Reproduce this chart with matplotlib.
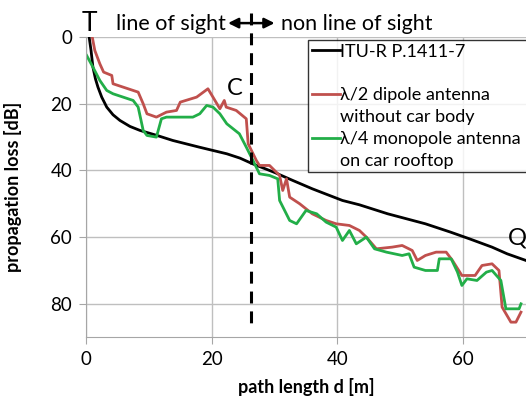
import matplotlib.pyplot as plt
from matplotlib.lines import Line2D

plt.rcParams['font.family'] = ['Lato', 'DejaVu Sans']

# ITU-R P.1411-7 model curve
itu_d = [0.5, 0.8, 1.1, 1.5, 1.9, 2.5, 3.3, 4.3, 5.4, 7.0, 8.6, 11.3, 13.8, 18.0, 22.4, 24.5, 26.5,
         30.0, 32.9, 36.0, 40.8, 43.5, 48.0, 54.0, 58.0, 61.0, 64.6, 67.0, 70.0]
itu_loss = [0, 4, 9, 12.5, 15, 18, 21, 23.3, 25, 26.8, 28, 29.5, 31, 33, 35, 36.3, 38,
            40.6, 43, 45.5, 49, 50.3, 53, 56, 58.5, 60.5, 63, 65, 67]

# lambda/2 dipole antenna without car body
dip_d = [1.0, 1.4, 2.2, 2.8, 4.1, 4.3, 5.9, 7.5, 8.3, 9.1, 9.7, 11.2, 12.8, 14.4, 15.0, 17.6, 19.4, 20.2,
         21.3, 22.0, 22.3, 23.9, 25.5, 25.8, 27.1, 27.6, 29.2, 30.8, 31.3, 31.9, 32.4, 34.0, 36.0, 38.2,
         39.8, 41.9, 43.5, 44.6, 46.2, 48.7, 50.3, 51.9, 52.7, 54.0, 55.7, 57.3, 58.3, 59.8, 61.9, 63.0,
         64.6, 65.7, 66.2, 67.6, 68.4, 69.2]
dip_loss = [0, 4, 8, 10.5, 11.5, 14, 15, 16, 16.5, 20, 23, 24, 22.5, 22, 19.5, 18, 15.5, 18,
            21.5, 19, 21, 22, 24.5, 32, 37, 38.5, 38.5, 41.5, 46, 42.5, 48, 50, 53, 55,
            56, 56.5, 58, 60, 63.5, 63, 62.5, 64, 67, 65.5, 64.5, 64.5, 67, 71.5, 71.5, 68.5,
            68, 70, 81, 85.5, 85.5, 82.5]

# lambda/4 monopole antenna on car rooftop
mono_d = [0.1, 1.1, 2.2, 3.3, 4.3, 5.9, 7.5, 8.3, 9.1, 9.7, 11.2, 12.0, 12.8, 17.0, 18.1, 19.2, 20.2,
          21.3, 22.4, 24.4, 25.5, 26.3, 27.6, 29.2, 30.5, 30.8, 32.4, 33.5, 35.0, 36.7, 38.2, 39.8,
          40.8, 41.9, 43.0, 44.6, 45.9, 47.8, 50.3, 51.4, 52.2, 54.0, 55.9, 56.2, 58.1, 59.1, 59.8,
          60.6, 62.2, 63.7, 64.6, 66.0, 66.8, 68.9, 69.2]
mono_loss = [5.5, 9, 13, 16, 17, 18, 19, 21, 28, 29.5, 30, 24.5, 24, 24, 23, 20.5, 21,
             23, 26, 29, 33, 36, 41, 41.5, 42.5, 49, 55, 56, 52, 53, 55.5, 57,
             61, 58, 62, 60, 63.5, 64.5, 65.5, 65, 69, 70, 70, 66.5, 66.5, 70.5, 74.5,
             72.5, 73, 70.5, 70, 73, 81.5, 81.5, 80]

x_ticks = [0, 20, 40, 60]
y_ticks = [0, 20, 40, 60, 80]
los_boundary = 26.3

fig = plt.figure(figsize=(5.26, 3.99), dpi=100)
ax = fig.add_axes([0.1635, 0.155, 0.8365, 0.752])

ax.plot(itu_d, itu_loss, color='black', lw=2.0)
ax.plot(dip_d, dip_loss, color='#C0504D', lw=2.0)
ax.plot(mono_d, mono_loss, color='#22AE48', lw=2.0)

ax.set_xlim(0, 70)
ax.set_ylim(90, 0)
ax.set_xticks(x_ticks)
ax.set_yticks(y_ticks)
ax.grid(True, color='#BFBFBF', lw=1.0)
ax.set_axisbelow(True)
for s in ['top', 'right']:
    ax.spines[s].set_visible(False)
for s in ['left', 'bottom']:
    ax.spines[s].set_color('#A6A6A6')
ax.tick_params(colors='#A6A6A6', labelcolor='black', labelsize=13.5, length=5, direction='out', pad=5)

ax.set_xlabel('path length d [m]', fontsize=13, fontweight='bold')
ax.set_ylabel('propagation loss [dB]', fontsize=13, fontweight='bold')
ax.xaxis.set_label_coords(0.5, -0.135)
ax.yaxis.set_label_coords(-0.145, 0.5)

# boundary between line of sight and non line of sight
ax.plot([los_boundary, los_boundary], [-7.2, 88], color='black', lw=2.2, ls=(0, (3.9, 2.6)), clip_on=False)
ax.annotate('', xy=(22.6, -4.2), xytext=(30.0, -4.2), annotation_clip=False,
            arrowprops=dict(arrowstyle='<|-|>', color='black', lw=1.8, mutation_scale=15, shrinkA=0, shrinkB=0))
ax.text(22.3, -4.0, 'line of sight', ha='right', va='center', fontsize=15.5)
ax.text(31.0, -4.0, 'non line of sight', ha='left', va='center', fontsize=15.5)
ax.text(0.55, -4.0, 'T', ha='center', va='center', fontsize=19)
ax.text(23.6, 15.3, 'C', ha='center', va='center', fontsize=17)
ax.text(68.6, 60.4, 'Q', ha='center', va='center', fontsize=17)

# legend, one row per text line so the marks sit beside the first line
blank = Line2D([], [], color='none')
handles = [Line2D([], [], color='black', lw=2.0), blank,
           Line2D([], [], color='#C0504D', lw=2.0), blank,
           Line2D([], [], color='#22AE48', lw=2.0), blank]
labels = ['ITU-R P.1411-7', ' ', 'λ/2 dipole antenna', 'without car body',
          'λ/4 monopole antenna', 'on car rooftop']
leg = ax.legend(handles, labels, loc='upper left', bbox_to_anchor=(0.5045, 0.99, 0.498, 0.0),
                mode='expand', fontsize=13, frameon=True, fancybox=False, edgecolor='black',
                handlelength=1.55, handletextpad=0.0, borderpad=0.2, labelspacing=0.32,
                borderaxespad=0)
leg.get_frame().set_linewidth(1.0)
leg.set_clip_on(False)

fig.savefig('out.png', dpi=100)
